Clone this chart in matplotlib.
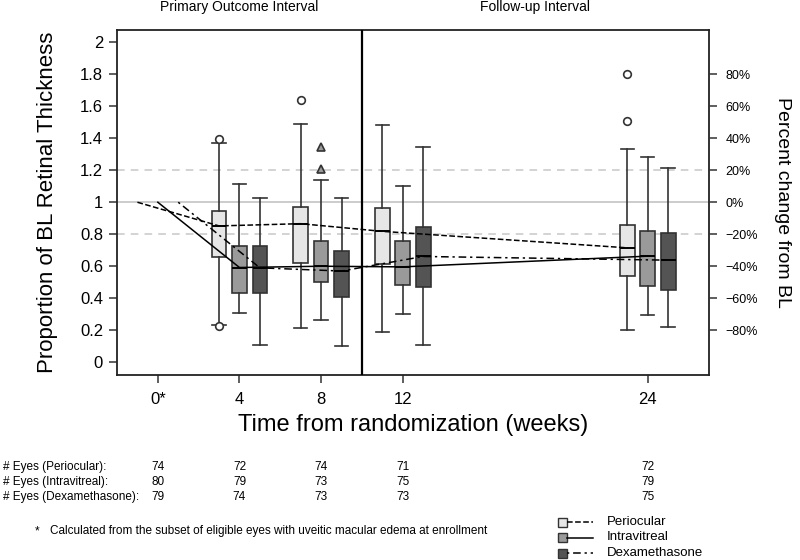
import numpy as np
import matplotlib
matplotlib.use("Agg")
import matplotlib.pyplot as plt
import matplotlib.transforms as mtransforms
from matplotlib.patches import Rectangle

plt.rcParams["font.family"] = ["Liberation Sans", "DejaVu Sans"]

# data
weeks = [4, 8, 12, 24]
groups = ["Periocular", "Intravitreal", "Dexamethasone"]
offsets = [-1, 0, 1]

peri_whislo = [0.231, 0.215, 0.187, 0.200]
peri_q1 = [0.659, 0.621, 0.615, 0.541]
peri_med = [0.852, 0.866, 0.818, 0.715]
peri_q3 = [0.947, 0.968, 0.962, 0.860]
peri_whishi = [1.370, 1.490, 1.480, 1.333]
peri_fliers = [[1.398, 0.228], [1.639], [], [1.804, 1.511]]

intra_whislo = [0.305, 0.265, 0.303, 0.294]
intra_q1 = [0.430, 0.502, 0.485, 0.479]
intra_med = [0.592, 0.600, 0.596, 0.663]
intra_q3 = [0.728, 0.755, 0.757, 0.820]
intra_whishi = [1.113, 1.140, 1.100, 1.283]
intra_fliers = [[], [1.346, 1.209], [], []]

dex_whislo = [0.108, 0.104, 0.110, 0.223]
dex_q1 = [0.432, 0.408, 0.470, 0.451]
dex_med = [0.590, 0.570, 0.661, 0.638]
dex_q3 = [0.726, 0.694, 0.847, 0.809]
dex_whishi = [1.025, 1.025, 1.343, 1.214]
dex_fliers = [[], [], [], []]

baseline = 1.0

count_weeks = [0, 4, 8, 12, 24]
n_peri = [74, 72, 74, 71, 72]
n_intra = [80, 79, 73, 75, 79]
n_dex = [79, 74, 73, 73, 75]

fill_colors = ["#e6e6e6", "#9a9a9a", "#545454"]
line_styles = ["--", "-", (0, (1.5, 2.5, 5, 2.5))]
flier_markers = ["o", "^", "o"]
flier_faces = ["white", "#9a9a9a", "white"]

fig = plt.figure(figsize=(8, 5.6), dpi=100)
ax = fig.add_axes([117 / 800, 1 - 375 / 560, (709 - 117) / 800, (375 - 29.5) / 560])

ax.axhline(1.0, color="#c8c8c8", lw=1.3, zorder=0)
ax.axhline(1.2, color="#c8c8c8", lw=1.1, ls=(0, (5, 4)), zorder=0)
ax.axhline(0.8, color="#c8c8c8", lw=1.1, ls=(0, (5, 4)), zorder=0)

stats_all = [
    (peri_whislo, peri_q1, peri_med, peri_q3, peri_whishi, peri_fliers),
    (intra_whislo, intra_q1, intra_med, intra_q3, intra_whishi, intra_fliers),
    (dex_whislo, dex_q1, dex_med, dex_q3, dex_whishi, dex_fliers),
]

for g, (lo, q1, med, q3, hi, fl) in enumerate(stats_all):
    stats = []
    for i in range(len(weeks)):
        stats.append(dict(whislo=lo[i], q1=q1[i], med=med[i], q3=q3[i],
                          whishi=hi[i], fliers=fl[i]))
    pos = [w + offsets[g] for w in weeks]
    ax.bxp(stats, positions=pos, widths=0.72, patch_artist=True,
           showfliers=True, manage_ticks=False,
           boxprops=dict(facecolor=fill_colors[g], edgecolor="#333333", lw=1.2),
           medianprops=dict(color="black", lw=1.4),
           whiskerprops=dict(color="#333333", lw=1.2),
           capprops=dict(color="#333333", lw=1.2),
           capwidths=0.66,
           flierprops=dict(marker=flier_markers[g], markerfacecolor=flier_faces[g],
                           markeredgecolor="#333333", markersize=5.5, mew=1.2))
    # trend line through the medians, starting at baseline
    xs = [0 + offsets[g]] + pos
    ys = [baseline] + list(med)
    ax.plot(xs, ys, color="black", lw=1.1, ls=line_styles[g], zorder=3)

ax.axvline(10, color="black", lw=1.6, zorder=4)

ax.set_xlim(-2, 27)
ax.set_ylim(-0.08, 2.08)
ax.set_xticks(count_weeks)
ax.set_xticklabels(["0*", "4", "8", "12", "24"], fontsize=12)
yt = np.round(np.arange(0, 2.01, 0.2), 1)
ax.set_yticks(yt)
ax.set_yticklabels(["0", "0.2", "0.4", "0.6", "0.8", "1", "1.2", "1.4", "1.6", "1.8", "2"],
                   fontsize=12)
ax.tick_params(length=6, width=1.1, color="#333333")
ax.tick_params(axis="x", pad=6)
ax.tick_params(axis="y", pad=4)
for s in ax.spines.values():
    s.set_linewidth(1.3)
    s.set_color("#222222")

ax2 = ax.twinx()
ax2.set_ylim(ax.get_ylim())
pt = np.round(np.arange(0.2, 1.81, 0.2), 1)
ax2.set_yticks(pt)
ax2.set_yticklabels([("%d%%" % round((v - 1) * 100)).replace("-", "\u2212") for v in pt],
                    fontsize=9)
ax2.tick_params(length=6, width=1.1, color="#333333", pad=6)
for s in ax2.spines.values():
    s.set_visible(False)

ax.set_xlabel("Time from randomization (weeks)", fontsize=17, labelpad=5)
ax.set_ylabel("Proportion of BL Retinal Thickness", fontsize=16, labelpad=16)
ax2.set_ylabel("Percent change from BL", fontsize=14, rotation=270, labelpad=24)

trans_top = mtransforms.blended_transform_factory(ax.transData, fig.transFigure)
ax.text(4, 1 - 7.5 / 560, "Primary Outcome Interval", transform=trans_top,
        ha="center", va="center", fontsize=10)
ax.text(18.5, 1 - 7.5 / 560, "Follow-up Interval", transform=trans_top,
        ha="center", va="center", fontsize=10)

# numbers of eyes below the plot
row_y = [1 - 467 / 560, 1 - 482 / 560, 1 - 497 / 560]
row_names = ["# Eyes (Periocular):", "# Eyes (Intravitreal):", "# Eyes (Dexamethasone):"]
for r, counts in enumerate([n_peri, n_intra, n_dex]):
    fig.text(3 / 800, row_y[r], row_names[r], ha="left", va="center", fontsize=8.5)
    for w, n in zip(count_weeks, counts):
        ax.text(w, row_y[r], str(n), transform=trans_top, ha="center", va="center",
                fontsize=8.5, clip_on=False)

fig.text(35 / 800, 1 - 531 / 560, "*", ha="left", va="center", fontsize=8.5)
fig.text(50 / 800, 1 - 531 / 560,
         "Calculated from the subset of eligible eyes with uveitic macular edema at enrollment",
         ha="left", va="center", fontsize=8.5)

# legend drawn by hand
lax = fig.add_axes([0, 0, 1, 1])
lax.set_xlim(0, 800)
lax.set_ylim(560, 0)
lax.axis("off")
leg_y = [522, 537.5, 553]
for g in range(3):
    y = leg_y[g]
    lax.add_patch(Rectangle((558, y - 4.5), 9, 9, facecolor=fill_colors[g],
                            edgecolor="#333333", lw=1))
    lax.plot([567, 593], [y, y], color="black", lw=1.1, ls=line_styles[g])
    lax.text(607, y, groups[g], ha="left", va="center", fontsize=9.5)

fig.savefig("out.png", dpi=100)
